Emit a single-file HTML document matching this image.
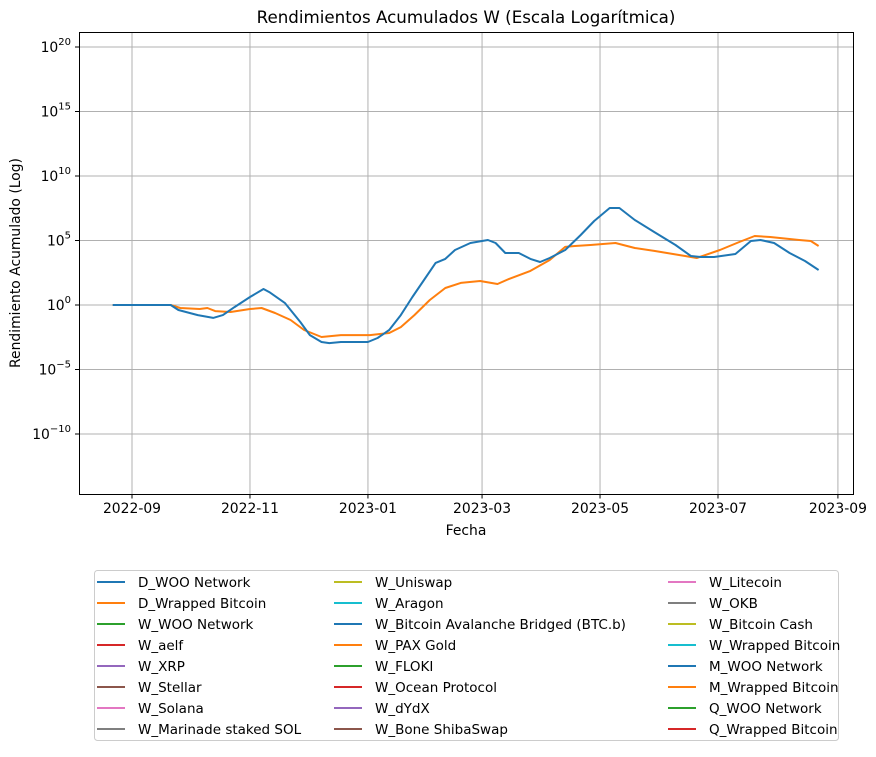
<!DOCTYPE html>
<html><head><meta charset="utf-8"><style>
body{margin:0;background:#fff;font-family:"DejaVu Sans","Liberation Sans",sans-serif;}
svg text{font-family:"DejaVu Sans","Liberation Sans",sans-serif;}
</style></head><body>
<svg id="chart" width="876" height="753" xmlns="http://www.w3.org/2000/svg">
<rect width="876" height="753" fill="#fff"/>
<text x="466" y="23" font-size="16.7" text-anchor="middle">Rendimientos Acumulados W (Escala Logarítmica)</text>
<g id="grid"></g>
<g id="series"></g>
<rect x="79.5" y="32.5" width="774" height="462" fill="none" stroke="#000" stroke-width="1"/>
<g id="axes"></g>
<text x="466" y="535" font-size="13.9" text-anchor="middle">Fecha</text>
<text transform="translate(20,263) rotate(-90)" font-size="13.9" text-anchor="middle">Rendimiento Acumulado (Log)</text>
<rect x="94.5" y="570.5" width="744" height="170" rx="3" fill="#fff" stroke="#ccc"/>
<g id="legend"></g>
</svg>
<script>
const blueDays=[-10,20,24,34,42,47,53,61,68,71,79,87,92,98,102,108,122,127,133,139,145,151,157,162,167,175,184,188,193,200,206,211,216,224,232,239,247,252,260,270,281,289,294,301,312,320,325,332,340,348,355];
const blueLog=[0,0,-0.39,-0.78,-1.0,-0.78,-0.16,0.62,1.24,1.0,0.16,-1.32,-2.33,-2.87,-2.95,-2.87,-2.87,-2.56,-1.94,-0.78,0.62,1.94,3.26,3.57,4.26,4.81,5.04,4.81,4.03,4.03,3.57,3.33,3.64,4.26,5.43,6.51,7.52,7.52,6.59,5.66,4.65,3.8,3.72,3.72,3.95,4.96,5.04,4.81,4.03,3.41,2.71];
const orangeDays=[-10,20,25,35,39,43,51,61,67,74,82,89,98,108,123,133,139,146,154,162,170,180,189,195,206,216,224,229,237,250,260,270,286,292,304,314,322,330,345,351,355];
const orangeLog=[0,0,-0.23,-0.31,-0.23,-0.47,-0.54,-0.31,-0.23,-0.62,-1.16,-1.94,-2.48,-2.33,-2.33,-2.17,-1.71,-0.78,0.39,1.32,1.71,1.86,1.63,2.02,2.64,3.49,4.5,4.57,4.65,4.81,4.42,4.19,3.8,3.64,4.26,4.88,5.35,5.27,5.04,4.96,4.57];
const xTickLabels=["2022-09","2022-11","2023-01","2023-03","2023-05","2023-07","2023-09"];
const xTickDays=[0,61,122,181,242,303,365];
const yTickExp=[-10,-5,0,5,10,15,20];
const legendLabels=["D_WOO Network","D_Wrapped Bitcoin","W_WOO Network","W_aelf","W_XRP","W_Stellar","W_Solana","W_Marinade staked SOL","W_Uniswap","W_Aragon","W_Bitcoin Avalanche Bridged (BTC.b)","W_PAX Gold","W_FLOKI","W_Ocean Protocol","W_dYdX","W_Bone ShibaSwap","W_Litecoin","W_OKB","W_Bitcoin Cash","W_Wrapped Bitcoin","M_WOO Network","M_Wrapped Bitcoin","Q_WOO Network","Q_Wrapped Bitcoin"];
const palette=["#1f77b4","#ff7f0e","#2ca02c","#d62728","#9467bd","#8c564b","#e377c2","#7f7f7f","#bcbd22","#17becf"];
const NS="http://www.w3.org/2000/svg";
function xs(d){return 132+d*1.934;}
function ys(l){return 305-l*12.9;}
function mk(t,a,p){const e=document.createElementNS(NS,t);for(const k in a)e.setAttribute(k,a[k]);p.appendChild(e);return e;}
const grid=document.getElementById('grid'),axes=document.getElementById('axes');
xTickDays.forEach((d,i)=>{const x=xs(d);
 const g=mk('line',{x1:x,x2:x,y1:33,y2:494,stroke:'#b0b0b0','stroke-width':1},grid);
 
 
 mk('line',{x1:x,x2:x,y1:494.5,y2:498.5,stroke:'#000'},axes);
 const t=mk('text',{x:x,y:513,'font-size':13.9,'text-anchor':'middle'},axes);t.textContent=xTickLabels[i];
 
 
});
yTickExp.forEach(e=>{const y=ys(e);
 const g=mk('line',{x1:80,x2:853,y1:y,y2:y,stroke:'#b0b0b0','stroke-width':1},grid);
 
 
 mk('line',{x1:75,x2:79.5,y1:y,y2:y,stroke:'#000'},axes);
 const t=mk('text',{x:71,y:y+5,'font-size':13.9,'text-anchor':'end'},axes);
 
 
 t.innerHTML='10<tspan dy="-7" font-size="10">'+String(e).replace('-','\u2212')+'</tspan>';
});
const ser=document.getElementById('series');
function line(days,vals,c,name){const p=days.map((d,i)=>xs(d).toFixed(1)+','+ys(vals[i]).toFixed(1)).join(' ');
 const e=mk('polyline',{points:p,fill:'none',stroke:c,'stroke-width':2,'stroke-linejoin':'round'},ser);
 
 }
line(orangeDays,orangeLog,palette[1],'series-d-wrapped-bitcoin');
line(blueDays,blueLog,palette[0],'series-d-woo-network');
const lg=document.getElementById('legend');
legendLabels.forEach((l,i)=>{const col=Math.floor(i/8),row=i%8;
 const x0=[97,334,668][col],y=582+row*21;
 const ln=mk('line',{x1:x0,x2:x0+28,y1:y,y2:y,stroke:palette[i%10],'stroke-width':2},lg);
 
 
 const t=mk('text',{x:x0+41,y:y+5,'font-size':13.5},lg);t.textContent=l;
 
 
});
</script>
</body></html>
